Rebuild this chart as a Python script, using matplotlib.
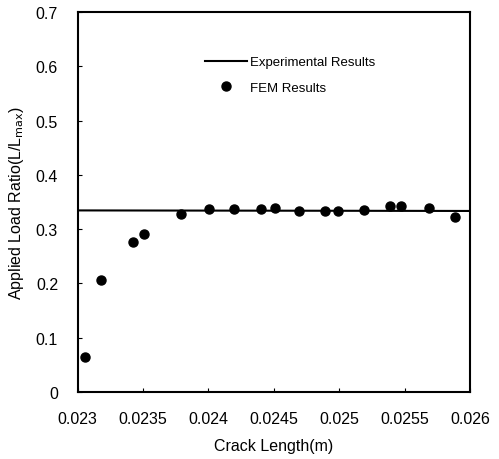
import matplotlib.pyplot as plt

# data
crack_len = [0.023055, 0.02318, 0.023424, 0.023508, 0.023791, 0.024007, 0.024198,
             0.0244, 0.024507, 0.024693, 0.024894, 0.024989, 0.02519, 0.025389,
             0.02547, 0.025684, 0.025883]
fem_ratio = [0.0645, 0.206, 0.276, 0.2916, 0.328, 0.3365, 0.3365, 0.3365, 0.3395,
             0.3334, 0.3334, 0.3334, 0.3358, 0.342, 0.342, 0.339, 0.323]
exp_x = [0.023, 0.026]
exp_ratio = [0.3345, 0.3335]

plt.rcParams['font.family'] = ['Liberation Sans', 'DejaVu Sans']

fig = plt.figure(figsize=(4.99, 4.6), dpi=100)
ax = fig.add_axes([77.5 / 499, 1 - 393 / 460, 392.5 / 499, 380 / 460])

ax.plot(exp_x, exp_ratio, color='black', lw=1.5, label='Experimental Results')
ax.plot(crack_len, fem_ratio, 'o', color='black', ms=6.5, label='FEM Results')

ax.set_xlim(0.023, 0.026)
ax.set_ylim(0, 0.7)
ax.set_xticks([0.023, 0.0235, 0.024, 0.0245, 0.025, 0.0255, 0.026])
ax.set_xticklabels(['0.023', '0.0235', '0.024', '0.0245', '0.025', '0.0255', '0.026'])
ax.set_yticks([0, 0.1, 0.2, 0.3, 0.4, 0.5, 0.6, 0.7])
ax.set_yticklabels(['0', '0.1', '0.2', '0.3', '0.4', '0.5', '0.6', '0.7'])
ax.tick_params(direction='in', length=3, labelsize=11.5, color='black')
ax.tick_params(axis='x', pad=14)
ax.tick_params(axis='y', pad=14)

for s in ax.spines.values():
    s.set_linewidth(1.5)

ax.set_xlabel('Crack Length(m)', fontsize=11.5, labelpad=8)
ax.set_ylabel('Applied Load Ratio(L/L$_{\\mathrm{max}}$)', fontsize=11.5, labelpad=7)

ax.legend(loc='upper left', bbox_to_anchor=(0.295, 0.915), frameon=False,
          fontsize=9.5, handlelength=3.2, handletextpad=0.2, labelspacing=1.0)

fig.savefig('out.png', dpi=100)
